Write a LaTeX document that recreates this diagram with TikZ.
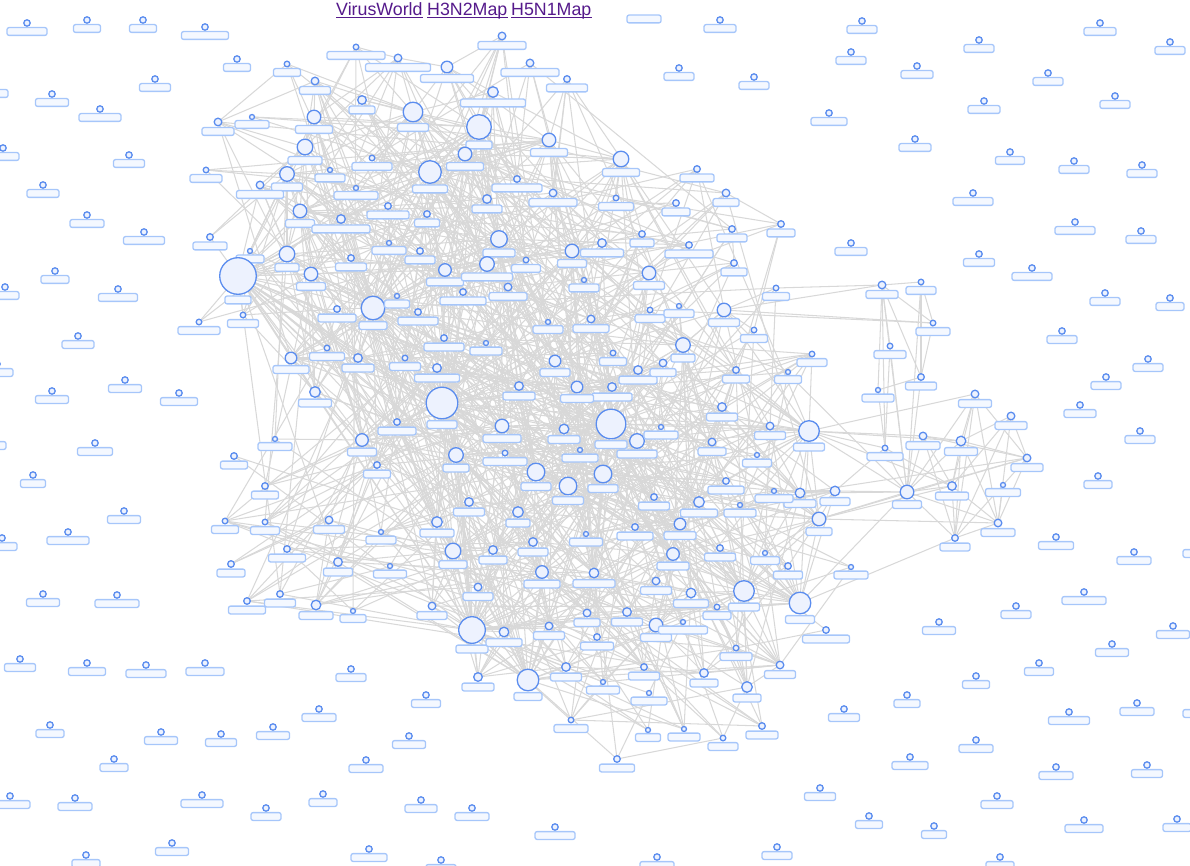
\documentclass[tikz,border=0pt]{standalone}
\usepackage{fontspec}
\setmainfont{Liberation Sans}
\pgfdeclarelayer{bg}
\pgfsetlayers{bg,main}
\definecolor{vblue}{HTML}{5B8DEF}
\definecolor{vfill}{HTML}{EDF2FE}
\definecolor{lblue}{HTML}{A6C6FA}
\definecolor{lfill}{HTML}{F4F8FF}
\definecolor{edgegray}{HTML}{D8D8D8}
\definecolor{linkpurple}{HTML}{551A8B}
\tikzset{
  vnode/.style={circle,draw=vblue,fill=vfill,line width=1.3pt,inner sep=0pt},
  vlabel/.style={rectangle,rounded corners=2pt,draw=lblue,fill=lfill,line width=1.3pt,inner sep=0pt,minimum height=7.8pt},
  vedge/.style={draw=edgegray,line width=1.05pt},
  linktext/.style={text=linkpurple,font=\fontsize{17.8}{20}\selectfont,inner sep=0pt,anchor=base west},
}
\def\mainlist{724/310/7/31, 776/288/3/27, 650/310/3/30, 809/431/10.5/31, 819/519/7/26, 835/491/5/30, 800/493/5/32, 800/603/11/29,
356/47/3/58, 398/58/4/65, 447/67/6/53, 502/36/4/48, 530/63/4/58, 567/79/3.5/41, 493/92/5.5/65, 287/64/3/27, 315/81/4/31, 362/100/4.5/26,
218/122/4/32, 252/117/2/34, 314/117/7/37, 413/112/10/31, 479/127/12.5/26, 549/140/7/37, 305/147/8/34, 372/158/3/40, 330/170/2.5/30,
287/174/7.5/31, 430/172/11.5/35, 465/154/7/37, 517/179/3.5/50, 553/193/4/48, 206/170/3/32, 260/185/4/47, 356/188/2/44, 487/199/4.5/30,
300/211/7/29, 341/219/4.5/58, 388/206/3.5/42, 427/214/3.5/25, 499/239/8.5/32, 572/251/7/29, 210/237/3.5/34, 250/251/2.5/28,
238/276/18.5/26, 287/254/8/24, 311/274/7/29, 351/258/3.5/31, 389/243/2/34, 420/251/3.5/30, 445/270/6.5/37, 487/264/7.5/51,
526/260/3/29, 508/287/4/38, 463/292/3.5/46, 584/280/2.5/30, 373/308/12/28, 397/296/2.5/25, 418/312/3.5/40, 337/309/3.5/38,
243/315/3/31, 199/322/3/42, 548/322/2/30,
621/159/8/37, 697/169/3.5/34, 726/193/4/26, 676/203/3.5/28, 616/198/3/35, 642/234/3.5/24, 602/243/4.5/43, 732/229/3.5/30,
781/224/3.5/28, 689/245/3.5/48, 734/263/3.5/26, 649/273/7/31, 679/306/2/30, 591/319/4/36, 754/330/3/27, 683/345/7.5/24,
613/353/3/27, 638/370/4.5/38, 663/363/4/26, 612/387/4.5/40, 736/370/3.5/27, 788/372/2/27, 812/354/3/30, 722/407/4.5/31,
611/424/15/32, 637/441/7.5/40, 661/427/2.5/34, 712/442/4/28, 770/426/4/31,
291/358/6/36, 327/348/3/35, 358/358/4.5/32, 405/358/3/31, 444/338/3.5/40, 486/343/2.5/32, 437/368/4.5/45, 315/392/5.5/33,
442/403/16/30, 397/422/3.5/38, 555/361/6/30, 519/386/4.5/32, 577/387/6/33, 502/426/7/38, 564/429/5/32, 580/450/2.5/36,
505/453/3/44, 362/440/6.5/29, 275/439/2/34, 456/455/7.5/26, 377/465/3.5/27, 234/456/3.5/27, 536/472/9/30, 568/486/9/31,
603/474/9/30, 265/486/3.5/27, 469/502/4.5/31, 518/512/5.5/24, 225/521/3/27, 265/522/3/29, 329/520/4/31, 381/532/2.5/30,
437/522/5.5/34, 453/551/8/28, 493/550/4.5/28, 533/542/4.5/30, 586/534/2.5/33, 287/549/3.5/37, 231/564/3.5/28, 338/562/4.5/29,
390/566/2.5/33, 542/572/6.5/36, 594/573/5/42, 478/587/4/30, 280/594/3.5/31, 247/601/3.5/37, 316/605/5/34, 353/611/2/26,
432/606/4/30, 472/630/13.5/32, 587/613/4/26, 549/626/4/31,
757/455/2.5/29, 726/481/3.5/36, 774/491/2/38, 654/497/3.5/31, 699/502/5.5/37, 740/505/2.5/32, 680/524/6/32, 635/527/3.5/36,
673/554/6.5/32, 720/548/3.5/31, 765/553/2/29, 788/566/3.5/29, 851/567/2.5/34, 656/581/4/31, 691/593/5/35, 744/591/10.5/31,
717/607/3/28, 627/612/4.5/31, 656/625/7/31, 683/622/2.5/49, 597/637/3.5/33, 826/630/3.5/47, 736/648/3/32, 644/667/3.5/31,
780/665/4/31, 704/673/4.5/28, 603/682/2.5/33, 649/693/2.5/36, 747/687/5.5/28,
504/632/5/36, 478/677/4.5/32, 528/680/11/28, 566/667/4.5/31, 571/720/3/34, 648/730/2/25, 684/729/2.5/32, 723/738/3/30,
762/726/3.5/32, 617/759/3.5/35}
\def\rightlist{882/285/4/32, 921/282/3/30, 933/323/3/34, 890/346/3/32, 921/377/3.5/31, 878/390/2.5/32, 975/394/4/33, 1011/416/4/32,
923/436/4/34, 961/441/5/33, 885/448/3/36, 1027/458/4/32, 907/492/7/29, 952/486/4.5/33, 1003/485/2/35, 998/523/4/34, 955/538/3.5/30}
\def\perilist{27/23/40, 87/20/27, 143/20/27, 205/27/47, 237/59/27, 52/94/33, 100/109/42, 155/79/31, -7/85/30,
3/148/32, 129/155/31, 43/185/32, 87/215/34, 144/232/41, 55/271/28, 5/287/28, 118/289/39, 78/336/32, -3/364/32,
125/380/33, 52/391/33, 179/393/37, -9/437/30, 95/443/35, 33/475/25, 124/511/33, 68/532/42, 2/538/30, 43/594/33,
117/595/44, 20/659/31, 87/663/37, 146/665/40, 205/663/38, 50/725/28, 161/732/33, 114/759/28, 10/796/40, 75/798/34,
202/795/42, 172/843/33, 86/855/28, 351/669/30, 426/695/29, 319/709/34, 273/727/33, 221/734/31, 409/736/33, 366/760/34,
323/794/28, 421/800/32, 266/808/30, 369/849/36, 441/860/30, 472/808/34, 555/827/40, 657/857/34, 777/847/30,
820/788/31, 869/816/27, 934/826/25, 997/796/32, 1000/857/28, 1084/820/38, 1177/819/28, 1147/765/31, 1056/767/34,
976/740/34, 910/757/36, 844/709/31, 907/695/26, 976/676/27, 1039/663/29, 1069/712/41, 1137/703/34, 1200/705/34,
1112/644/33, 1173/626/33, 939/622/33, 1016/606/30, 1084/592/44, 1134/552/34, 1198/545/30, 1056/537/35, 1098/476/28,
1140/431/30, 1080/405/32, 1106/377/30, 1148/359/30, 1062/331/30, 1105/293/30, 1170/298/28, 1032/268/40, 979/254/31,
851/243/32, 1075/222/40, 1141/231/30, 973/193/40, 1010/152/29, 1074/161/30, 1142/165/30, 915/139/32, 829/113/36,
984/101/32, 1115/96/30, 1048/73/30, 917/66/32, 754/77/30, 679/68/30, 851/52/30, 979/40/30, 1170/42/30, 1100/23/32,
862/21/30, 720/20/32}
\begin{document}
\begin{tikzpicture}[x=1pt,y=-1pt]
\useasboundingbox (0,0) rectangle (1190,866);
\clip (0,0) rectangle (1190,866);
% main cluster
\foreach \x/\y/\r/\w [count=\i] in \mainlist {
  \pgfmathsetmacro\dia{max(2*\r-0.4,5)}
  \node[vnode,minimum size={\dia*1pt}] (c\i) at (\x,\y) {};
  \node[vlabel,minimum width={\w*1pt}] (cl\i) at (\x,{\y+\r+5.5}) {};
  \expandafter\xdef\csname mx\i\endcsname{\x}
  \expandafter\xdef\csname my\i\endcsname{\y}
  \pgfmathsetmacro\ww{(\r/4)^1.25}
  \expandafter\xdef\csname mw\i\endcsname{\ww}
  \xdef\NC{\i}
}
% right cluster
\foreach \x/\y/\r/\w [count=\i] in \rightlist {
  \pgfmathsetmacro\dia{max(2*\r-0.4,5)}
  \node[vnode,minimum size={\dia*1pt}] (r\i) at (\x,\y) {};
  \node[vlabel,minimum width={\w*1pt}] (rl\i) at (\x,{\y+\r+5.5}) {};
}
% isolated strains
\foreach \x/\y/\w [count=\i] in \perilist {
  \node[vnode,minimum size=6.4pt] (p\i) at (\x,\y) {};
  \node[vlabel,minimum width={\w*1pt}] (pl\i) at (\x,{\y+8.5}) {};
}
\node[vlabel,minimum width=34pt] (topl) at (644,19) {};
% links
\pgfmathsetseed{20240}
\begin{pgfonlayer}{bg}
\foreach \i in {1,...,\NC}{
  \pgfmathtruncatemacro\ii{\i+1}
  \ifnum\ii>\NC\relax\else
  \foreach \j in {\ii,...,\NC}{
    \pgfmathsetmacro\dd{veclen(\csname mx\i\endcsname-\csname mx\j\endcsname,\csname my\i\endcsname-\csname my\j\endcsname)}
    \pgfmathsetmacro\pp{\csname mw\i\endcsname*\csname mw\j\endcsname*(0.28*exp(-\dd/60)+0.08*exp(-\dd/250))}
    \pgfmathparse{rnd<\pp}
    \ifdim\pgfmathresult pt>0.5pt \draw[vedge] (c\i.center) -- (c\j.center);\fi
  }
  \fi
}
\foreach \a/\b in {1/2,1/3,1/4,1/5,1/6,1/11,1/13,2/3,2/13,2/5,4/11,4/13,3/5,5/6,5/13,6/11,
  7/10,7/12,7/14,7/17,7/13,7/16,8/10,8/12,8/14,8/16,8/17,9/10,9/12,9/14,9/13,9/17,10/14,10/17,10/13,10/12,10/16,
  11/13,11/14,12/13,12/16,12/15,13/14,13/17,13/16,14/17,14/16,15/16,15/17,16/17}
  \draw[vedge] (r\a.center) -- (r\b.center);
\foreach \a/\b in {1/1,1/2,3/1,3/3,13/4,13/5,13/6,13/7,14/5,10/4,9/4,12/5,16/5,17/8,11/6,7/4,13/8,14/4,12/7,13/1,11/4}
  \draw[vedge] (r\a.center) -- (c\b.center);
\end{pgfonlayer}
% header links
\node[linktext] (vw) at (336,15.5) {VirusWorld};
\node[linktext] (h3) at (427,15.5) {H3N2Map};
\node[linktext] (h5) at (511,15.5) {H5N1Map};
\foreach \n in {vw,h3,h5}
  \draw[linkpurple,line width=1.2pt] ([yshift=-2pt]\n.base west) -- ([yshift=-2pt]\n.base east);
\end{tikzpicture}
\end{document}
